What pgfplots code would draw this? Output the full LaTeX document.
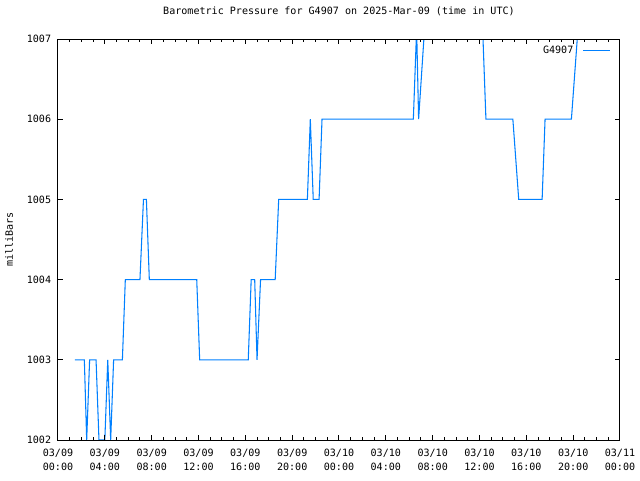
\documentclass[border=0pt]{standalone}
\usepackage{pgfplots}
\pgfplotsset{compat=1.18}
\usepackage{fontspec}
\setmainfont{DejaVu Sans Mono}
\setmonofont{DejaVu Sans Mono}
\definecolor{gblue}{RGB}{0,128,255}
\begin{document}
\begin{tikzpicture}[font=\fontsize{7.55}{10.5}\selectfont]
\path[use as bounding box] (0,0) rectangle (480pt,360pt);
\begin{axis}[
  at={(43.5pt,30pt)}, anchor=south west,
  scale only axis, width=421.5pt, height=300.75pt,
  xmin=0, xmax=48, ymin=1002, ymax=1007,
  xtick={0,4,...,48},
  xticklabels={03/09\\00:00,03/09\\04:00,03/09\\08:00,03/09\\12:00,03/09\\16:00,03/09\\20:00,03/10\\00:00,03/10\\04:00,03/10\\08:00,03/10\\12:00,03/10\\16:00,03/10\\20:00,03/11\\00:00},
  minor x tick num=3,
  ytick={1002,1003,1004,1005,1006,1007},
  yticklabels={1002,1003,1004,1005,1006,1007},
  xticklabel style={align=center, anchor=center, yshift=-15pt},
  yticklabel style={anchor=east, inner sep=0pt, xshift=-5pt},
  tick align=inside,
  major tick length=3.75pt,
  minor tick length=2.2pt,
  every tick/.style={black, line width=0.75pt},
  axis line style={black, line width=0.75pt},
  axis on top,
  title={Barometric Pressure for G4907 on 2025-Mar-09 (time in UTC)},
  title style={at={(axis description cs:0.5,1)}, anchor=center, yshift=15pt, inner sep=0pt},
  ylabel={milliBars},
  ylabel style={at={(axis description cs:-0.087,0.5)}, anchor=center, inner sep=0pt},
  legend style={at={(axis description cs:1,1)}, anchor=north east, xshift=-7pt, yshift=-3pt, draw=none, fill=none, inner sep=0pt, /tikz/column sep=5pt},
  legend plot pos=right,
  legend cell align=right,
  legend image code/.code={\draw[#1] (0pt,0pt) -- (20pt,0pt);},
]
\addplot[gblue, line width=0.8pt] coordinates {
(1.45,1003) (2.25,1003) (2.45,1002) (2.7,1003) (3.25,1003) (3.5,1002) (4.0,1002) (4.25,1003) (4.5,1002) (4.75,1003)
(5.5,1003) (5.75,1004) (7.0,1004) (7.3,1005) (7.55,1005) (7.8,1004) (11.85,1004) (12.1,1003)
(16.25,1003) (16.5,1004) (16.8,1004) (17.0,1003) (17.3,1004) (18.55,1004) (18.85,1005)
(21.3,1005) (21.55,1006) (21.8,1005) (22.3,1005) (22.55,1006) (30.35,1006) (30.6,1007) (30.65,1007)
(30.8,1006) (31.25,1007) (36.3,1007) (36.55,1006) (38.85,1006) (39.35,1005) (41.35,1005) (41.6,1006)
(43.85,1006) (44.35,1007) (44.6,1007)
};
\addlegendentry{G4907}
\end{axis}
\end{tikzpicture}
\end{document}
